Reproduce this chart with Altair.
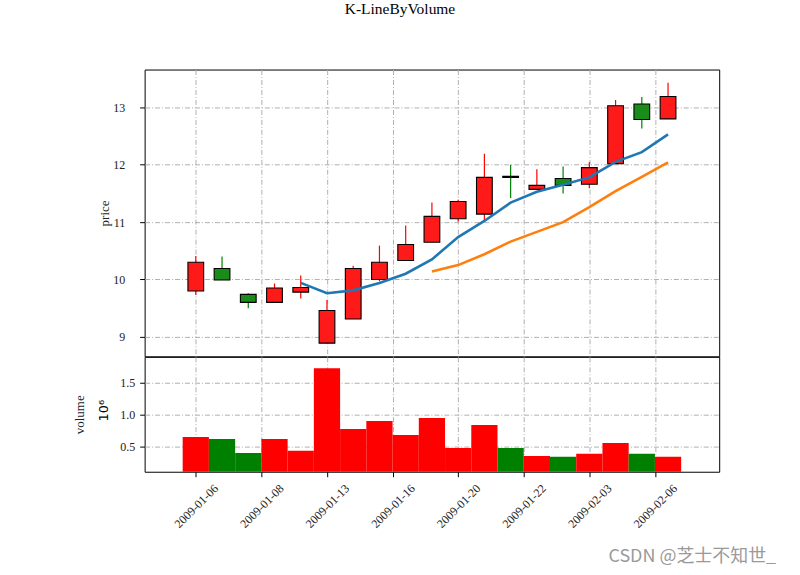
import altair as alt
import pandas as pd

# ---------------- data ----------------
dates = ["2009-01-06", "2009-01-07", "2009-01-08", "2009-01-09", "2009-01-12",
         "2009-01-13", "2009-01-14", "2009-01-15", "2009-01-16", "2009-01-19",
         "2009-01-20", "2009-01-21", "2009-01-22", "2009-01-23", "2009-02-02",
         "2009-02-03", "2009-02-04", "2009-02-05", "2009-02-06"]
open_ = [9.80, 10.19, 9.74, 9.60, 9.78, 8.89, 9.31, 10.00, 10.33, 10.65,
         11.06, 11.14, 11.80, 11.57, 11.76, 11.66, 12.02, 13.06, 12.80]
close = [10.30, 9.99, 9.60, 9.85, 9.86, 9.46, 10.19, 10.30, 10.61, 11.10,
         11.36, 11.78, 11.78, 11.64, 11.64, 11.95, 13.03, 12.79, 13.19]
high = [10.41, 10.40, 9.76, 9.93, 10.07, 9.64, 10.24, 10.59, 10.94, 11.34,
        11.39, 12.19, 12.00, 11.92, 11.97, 12.05, 13.13, 13.18, 13.43]
low = [9.73, 9.99, 9.50, 9.60, 9.67, 8.89, 9.31, 9.97, 10.33, 10.65,
       11.01, 11.01, 11.42, 11.57, 11.50, 11.59, 12.02, 12.63, 12.80]
volume = [0.645, 0.614, 0.395, 0.614, 0.427, 1.723, 0.770, 0.895, 0.677, 0.942,
          0.473, 0.833, 0.473, 0.348, 0.333, 0.380, 0.552, 0.380, 0.333]  # x 1e6
ma5 = [None, None, None, None, 9.94, 9.76, 9.81, 9.94, 10.10, 10.35,
       10.74, 11.02, 11.34, 11.53, 11.65, 11.78, 12.05, 12.22, 12.53]
ma10 = [None, None, None, None, None, None, None, None, None, 10.14,
        10.25, 10.44, 10.66, 10.83, 11.00, 11.26, 11.54, 11.79, 12.04]

tick_vals = [0, 2.5, 5, 7.5, 10, 12.5, 15, 17.5]
tick_labels = ["2009-01-06", "2009-01-08", "2009-01-13", "2009-01-16",
               "2009-01-20", "2009-01-22", "2009-02-03", "2009-02-06"]
price_ticks = [9, 10, 11, 12, 13]
vol_ticks = [0.5, 1.0, 1.5]

idx = list(range(len(dates)))
df = pd.DataFrame({"i": idx, "date": dates, "open": open_, "close": close,
                   "high": high, "low": low, "vol": volume})
df_ma = pd.DataFrame({"i": idx, "ma5": ma5, "ma10": ma10})
one = pd.DataFrame({"a": [0]})

# ---------------- scales / axes ----------------
PW = 576
TOP_H = 287.5
BOT_H = 115.2
xs = alt.Scale(domain=[-1.95, 19.95], nice=False, zero=False)
ys_price = alt.Scale(domain=[8.66, 13.66], nice=False, zero=False)
ys_vol = alt.Scale(domain=[0.1, 1.9], nice=False, zero=False)

top_x_axis = alt.Axis(values=tick_vals, labels=False, ticks=False, domain=False,
                      grid=True, title=None)
price_axis = alt.Axis(values=price_ticks, tickSize=5, labelPadding=15, grid=True,
                      title="price", titleX=-33, titleY=TOP_H / 2, titleAngle=270,
                      titleAlign="center", titleBaseline="bottom")
label_expr = "[" + ",".join("'%s'" % t for t in tick_labels) + "][round(datum.value / 2.5)]"
bot_x_axis = alt.Axis(values=tick_vals, labelExpr=label_expr, labelAngle=315,
                      labelAlign="center", labelBaseline="middle", labelPadding=29,
                      tickSize=5, grid=True, title=None, labelOverlap=False,
                      labelFlush=False)
vol_axis = alt.Axis(values=vol_ticks, format=".1f", tickSize=5, labelPadding=5,
                    grid=True, title="volume", titleX=-58, titleY=BOT_H / 2,
                    titleAngle=270, titleAlign="center", titleBaseline="bottom")

up = "datum.close >= datum.open"

def XT(f):
    return alt.X(f, type="quantitative", scale=xs, axis=top_x_axis)

def YP(f):
    return alt.Y(f, type="quantitative", scale=ys_price, axis=price_axis)

def XB(f):
    return alt.X(f, type="quantitative", scale=xs, axis=bot_x_axis)

def YV(f):
    return alt.Y(f, type="quantitative", scale=ys_vol, axis=vol_axis)

# ---------------- top panel ----------------
frame = alt.Chart(one).mark_rect(opacity=0).encode(
    x=alt.value(-144), x2=alt.value(656), y=alt.value(-68), y2=alt.value(507))

wick = alt.Chart(df).mark_rule(strokeWidth=1.2).encode(
    x=XT("i"), y=YP("low"), y2="high:Q",
    color=alt.condition(up, alt.value("#ff0000"), alt.value("#008000")))

body = alt.Chart(df).transform_calculate(
    xa="datum.i - 0.3", xb="datum.i + 0.3").mark_bar(
    stroke="black", strokeWidth=1.1).encode(
    x=XT("xa"), x2="xb:Q", y=YP("open"), y2="close:Q",
    fill=alt.condition(up, alt.value("#ff1a1a"), alt.value("#1a8c1a")))

l5 = alt.Chart(df_ma).mark_line(color="#1f77b4", strokeWidth=2.6).encode(
    x=XT("i"), y=YP("ma5"))
l10 = alt.Chart(df_ma).mark_line(color="#ff7f0e", strokeWidth=2.6).encode(
    x=XT("i"), y=YP("ma10"))

title = alt.Chart(one).mark_text(
    text="K-LineByVolume", font="Liberation Serif", fontSize=15.5, color="black",
    align="center", baseline="middle").encode(x=alt.value(256), y=alt.value(-60.5))

top = alt.layer(frame, wick, body, l5, l10, title).properties(width=PW, height=TOP_H)

# ---------------- bottom panel ----------------
vbars = alt.Chart(df).transform_calculate(
    xa="datum.i - 0.5", xb="datum.i + 0.5").mark_bar(clip=True).encode(
    x=XB("xa"), x2="xb:Q", y=YV("vol"), y2=alt.datum(0),
    fill=alt.condition(up, alt.value("#ff0000"), alt.value("#008000")))

exp_txt = alt.Chart(one).mark_text(
    text="10⁶", font="DejaVu Sans", fontSize=13, color="black", angle=270,
    align="center", baseline="middle").encode(x=alt.value(-41), y=alt.value(54))

mark_txt = alt.Chart(one).mark_text(
    text="CSDN @芝士不知世_", font="Noto Sans CJK SC", fontSize=18, color="#9a9a9a",
    align="center", baseline="middle").encode(x=alt.value(549), y=alt.value(201))

bottom = alt.layer(vbars, exp_txt, mark_txt).properties(width=PW, height=BOT_H)

chart = alt.vconcat(top, bottom, spacing=0, bounds="flush").properties(
    padding=0
).configure(font="Liberation Serif").configure_view(
    stroke="black", strokeWidth=1
).configure_axis(
    gridColor="#b0b0b0", gridDash=[5, 2, 1, 2], gridWidth=1,
    tickColor="black", tickWidth=1, labelColor="#222222",
    labelFont="Liberation Serif", labelFontSize=12,
    titleFont="Liberation Serif", titleFontSize=13, titleColor="#222222",
    titleFontWeight="normal", domain=False
)

chart.save("out.html", embed_options={"renderer": "svg", "actions": False})
